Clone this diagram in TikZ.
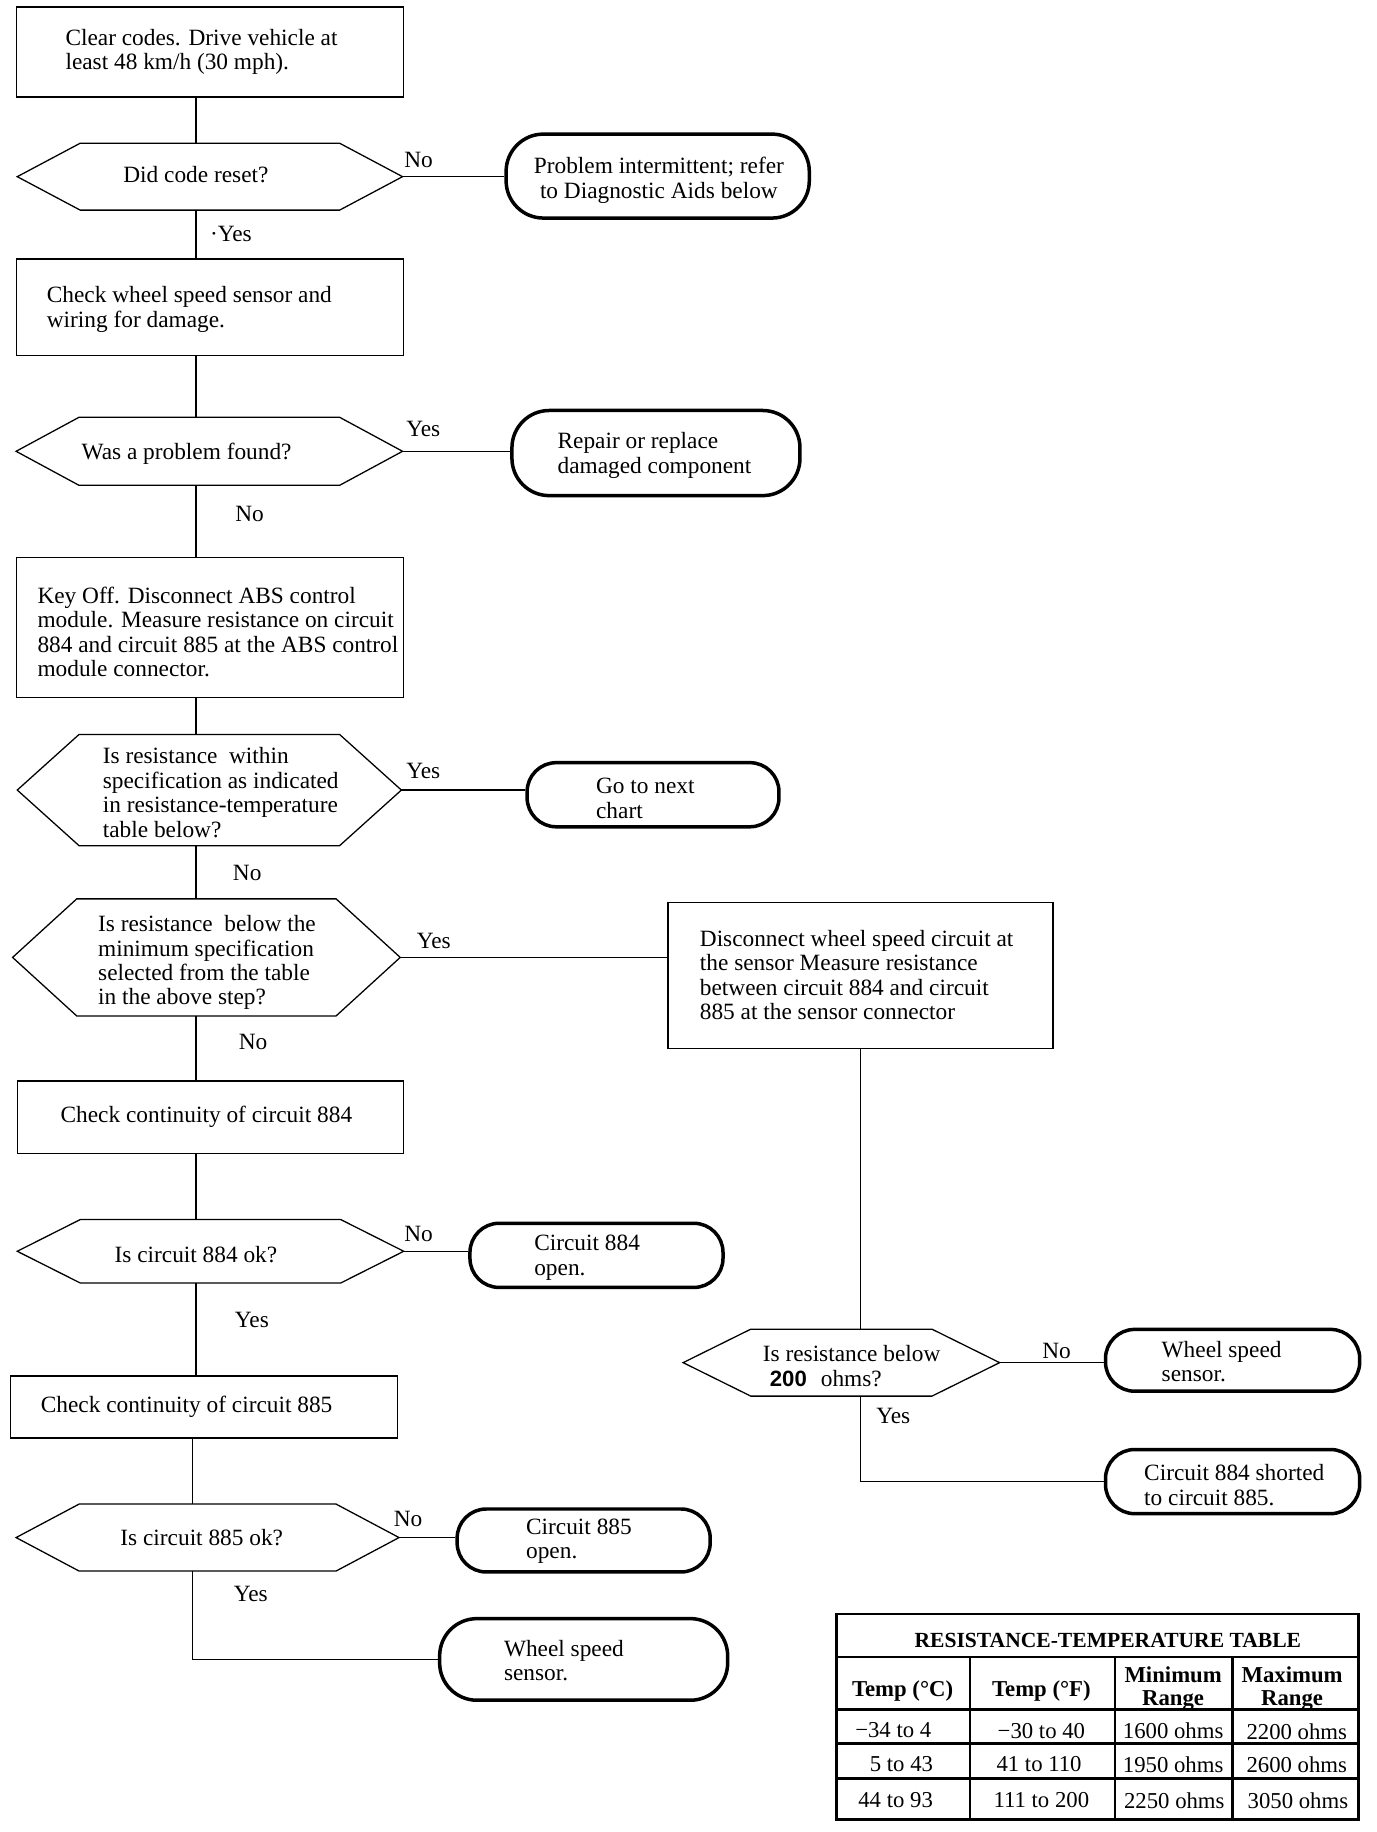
\documentclass[tikz,border=0pt]{standalone}
\usepackage{fontspec}
\setmainfont{Liberation Serif}
\newfontfamily\sansfam{Liberation Sans}
\usetikzlibrary{calc}
\newcommand\mainfs{\fontsize{20}{21}\selectfont}
\newcommand\tabfs{\fontsize{19.5}{21}\selectfont}
\newcommand\hexa[6]{%
  \node[hexframe, minimum width=#4pt, minimum height=#5pt] (#1) at (#2,#3) {};
  \draw[hexline] (#1.west) -- ($(#1.north west)+(#6pt,0pt)$) -- ($(#1.north east)+(-#6pt,0pt)$)
     -- (#1.east) -- ($(#1.south east)+(-#6pt,0pt)$) -- ($(#1.south west)+(#6pt,0pt)$) -- cycle;}
\tikzset{
  procbox/.style={draw, line width=1.4pt, rectangle, inner sep=0pt},
  hexframe/.style={rectangle, inner sep=0pt},
  hexline/.style={line width=1.1pt, line join=miter},
  termbox/.style={draw, line width=3pt, rectangle, inner sep=0pt, rounded corners=26pt},
  txt/.style={align=left, inner sep=0pt, font=\mainfs, yshift=-2.5pt},
  ctxt/.style={align=center, inner sep=0pt, font=\mainfs, yshift=-2.5pt},
  lbl/.style={inner sep=0pt, font=\mainfs, yshift=-2.5pt},
  conn/.style={line width=1.3pt},
  tblline/.style={line width=2pt},
  tbltxt/.style={inner sep=0pt, font=\tabfs, align=center, yshift=-3pt},
  tblhead/.style={inner sep=0pt, font=\tabfs\bfseries, align=center, yshift=-3pt},
}
\begin{document}
\begin{tikzpicture}[x=1pt, y=-1pt]
\useasboundingbox (0,0) rectangle (1180,1571);
\coordinate (cL) at (168,0);
\coordinate (cM) at (165,0);
\coordinate (cR) at (738,0);

% ---- left column
\node[procbox, minimum width=332pt, minimum height=77pt] (b1) at (180,44.5) {};
\node[txt, anchor=west] (b1t) at (56,42) {Clear codes. Drive vehicle at\\least 48 km/h (30 mph).};

\hexa{h1}{180}{151.5}{330}{57}{54}
\node[lbl] (h1t) at (168,147) {Did code reset?};
\node[termbox, minimum width=260pt, minimum height=72pt, rounded corners=32pt] (t1) at (564,151) {};
\node[ctxt] (t1t) at (565,152) {Problem intermittent; refer\\to Diagnostic Aids below};
\node[lbl] (l1) at (359,135) {No};
\node[lbl] (l2) at (198,198) {·Yes};

\node[procbox, minimum width=332pt, minimum height=83pt] (b2) at (180,263.5) {};
\node[txt, anchor=west] (b2t) at (40,263) {Check wheel speed sensor and\\wiring for damage.};

\hexa{h2}{179.5}{387}{331}{58}{54}
\node[lbl] (h2t) at (160,387) {Was a problem found?};
\node[termbox, minimum width=247pt, minimum height=73pt, rounded corners=32pt] (t2) at (562.5,388.5) {};
\node[txt, anchor=west] (t2t) at (478,388) {Repair or replace\\damaged component};
\node[lbl] (l3) at (363,365) {Yes};
\node[lbl] (l4) at (214,438) {No};

\node[procbox, minimum width=332pt, minimum height=120pt] (b3) at (180,538) {};
\node[txt, anchor=west] (b3t) at (32,539.5) {Key Off. Disconnect ABS control\\module. Measure resistance on circuit\\884 and circuit 885 at the ABS control\\module connector.};

\hexa{h3}{179.5}{677.5}{329}{95}{53}
\node[txt, anchor=west] (h3t) at (88,677) {Is resistance~ within\\specification as indicated\\in resistance-temperature\\table below?};
\node[termbox, minimum width=216pt, minimum height=55pt, rounded corners=25pt] (t3) at (560,681.5) {};
\node[txt, anchor=west] (t3t) at (511,682) {Go to next\\chart};
\node[lbl] (l5) at (363,659) {Yes};
\node[lbl] (l6) at (212,746) {No};

\hexa{h4}{177}{821}{332}{100}{55}
\node[txt, anchor=west] (h4t) at (84,823) {Is resistance~ below the\\minimum specification\\selected from the table\\in the above step?};
\node[lbl] (l7) at (372,804) {Yes};
\node[lbl] (l8) at (217,891) {No};

\node[procbox, minimum width=330pt, minimum height=125pt] (b4) at (738,836.5) {};
\node[txt, anchor=west] (b4t) at (600,833.5) {Disconnect wheel speed circuit at\\the sensor Measure resistance\\between circuit 884 and circuit\\885 at the sensor connector};

\node[procbox, minimum width=331pt, minimum height=62pt] (b5) at (180.5,958) {};
\node[lbl] (b5t) at (177,955) {Check continuity of circuit 884};

\hexa{h5}{180.5}{1073}{331}{54}{54}
\node[lbl] (h5t) at (168,1073) {Is circuit 884 ok?};
\node[termbox, minimum width=217pt, minimum height=55pt, rounded corners=25pt] (t5) at (511.5,1076.5) {};
\node[txt, anchor=west] (t5t) at (458,1076) {Circuit 884\\open.};
\node[lbl] (l9) at (359,1056) {No};
\node[lbl] (l10) at (216,1129) {Yes};

\node[procbox, minimum width=332pt, minimum height=53pt] (b6) at (175,1206.5) {};
\node[lbl] (b6t) at (160,1204) {Check continuity of circuit 885};

\hexa{h6}{178}{1318.5}{328}{57}{54}
\node[lbl] (h6t) at (173,1316) {Is circuit 885 ok?};
\node[termbox, minimum width=217pt, minimum height=54pt, rounded corners=25pt] (t6) at (500.5,1321) {};
\node[txt, anchor=west] (t6t) at (451,1319) {Circuit 885\\open.};
\node[lbl] (l11) at (350,1300) {No};
\node[lbl] (l12) at (215,1364) {Yes};

\node[termbox, minimum width=247pt, minimum height=70pt, rounded corners=32pt] (t7) at (500.5,1423) {};
\node[txt, anchor=west] (t7t) at (432,1421.5) {Wheel speed\\sensor.};

% ---- right column
\hexa{h7}{721.5}{1168.5}{271}{57}{58}
\node[txt, anchor=west] (h7t) at (654,1169) {Is resistance below\\\hspace*{6pt}{\sansfam\bfseries\fontsize{19}{21}\selectfont 200}\hspace{12pt}ohms?};
\node[termbox, minimum width=218pt, minimum height=53pt, rounded corners=25pt] (t8) at (1057,1166.5) {};
\node[txt, anchor=west] (t8t) at (996,1165) {Wheel speed\\sensor.};
\node[lbl] (l13) at (906,1156) {No};
\node[termbox, minimum width=218pt, minimum height=55pt, rounded corners=25pt] (t9) at (1057,1270.5) {};
\node[txt, anchor=west] (t9t) at (981,1271) {Circuit 884 shorted\\to circuit 885.};
\node[lbl] (l14) at (766,1212) {Yes};

% ---- connectors
\draw[conn] (b1.south -| cL) -- (h1.north -| cL);
\draw[conn] (h1.east) -- (h1.east -| t1.west);
\draw[conn] (h1.south -| cL) -- (b2.north -| cL);
\draw[conn] (b2.south -| cL) -- (h2.north -| cL);
\draw[conn] (h2.east) -- (h2.east -| t2.west);
\draw[conn] (h2.south -| cL) -- (b3.north -| cL);
\draw[conn] (b3.south -| cL) -- (h3.north -| cL);
\draw[conn] (h3.east) -- (h3.east -| t3.west);
\draw[conn] (h3.south -| cL) -- (h4.north -| cL);
\draw[conn] (h4.east) -- (h4.east -| b4.west);
\draw[conn] (h4.south -| cL) -- (b5.north -| cL);
\draw[conn] (b5.south -| cL) -- (h5.north -| cL);
\draw[conn] (h5.east) -- (h5.east -| t5.west);
\draw[conn] (h5.south -| cL) -- (b6.north -| cL);
\draw[conn] (b6.south -| cM) -- (h6.north -| cM);
\draw[conn] (h6.east) -- (h6.east -| t6.west);
\draw[conn] (h6.south -| cM) |- (t7.west);
\draw[conn] (b4.south -| cR) -- (h7.north -| cR);
\draw[conn] (h7.east) -- (h7.east -| t8.west);
\draw[conn] (h7.south -| cR) |- (t9.west);

% ---- table
\draw[line width=2.4pt] (717,1384) rectangle (1165,1560);
\draw[tblline] (717,1421) -- (1165,1421);
\draw[tblline] (717,1466) -- (1165,1466);
\draw[tblline] (717,1495) -- (1165,1495);
\draw[tblline] (717,1525) -- (1165,1525);
\draw[tblline] (832,1421) -- (832,1560);
\draw[tblline] (956,1421) -- (956,1560);
\draw[tblline] (1057,1421) -- (1057,1560);
\node[tblhead, font=\fontsize{18.5}{21}\selectfont\bfseries] (tt) at (950,1404) {RESISTANCE-TEMPERATURE TABLE};
\node[tblhead] (hc1) at (774,1447) {Temp (°C)};
\node[tblhead] (hc2) at (893,1447) {Temp (°F)};
\node[tblhead, font=\fontsize{19.5}{20}\selectfont\bfseries] (hc3) at (1006,1445) {Minimum\\Range};
\node[tblhead, font=\fontsize{19.5}{20}\selectfont\bfseries] (hc4) at (1108,1445) {Maximum\\Range};
\node[tbltxt] (r11) at (766,1481) {−34 to 4};
\node[tbltxt] (r12) at (893,1481) {−30 to 40};
\node[tbltxt] (r13) at (1006,1481) {1600 ohms};
\node[tbltxt] (r14) at (1112,1482) {2200 ohms};
\node[tbltxt] (r21) at (773,1510) {5 to 43};
\node[tbltxt] (r22) at (891,1510) {41 to 110};
\node[tbltxt] (r23) at (1006,1510) {1950 ohms};
\node[tbltxt] (r24) at (1112,1510) {2600 ohms};
\node[tbltxt] (r31) at (768,1541) {44 to 93};
\node[tbltxt] (r32) at (893,1541) {111 to 200};
\node[tbltxt] (r33) at (1007,1541) {2250 ohms};
\node[tbltxt] (r34) at (1113,1541) {3050 ohms};
\end{tikzpicture}
\end{document}
